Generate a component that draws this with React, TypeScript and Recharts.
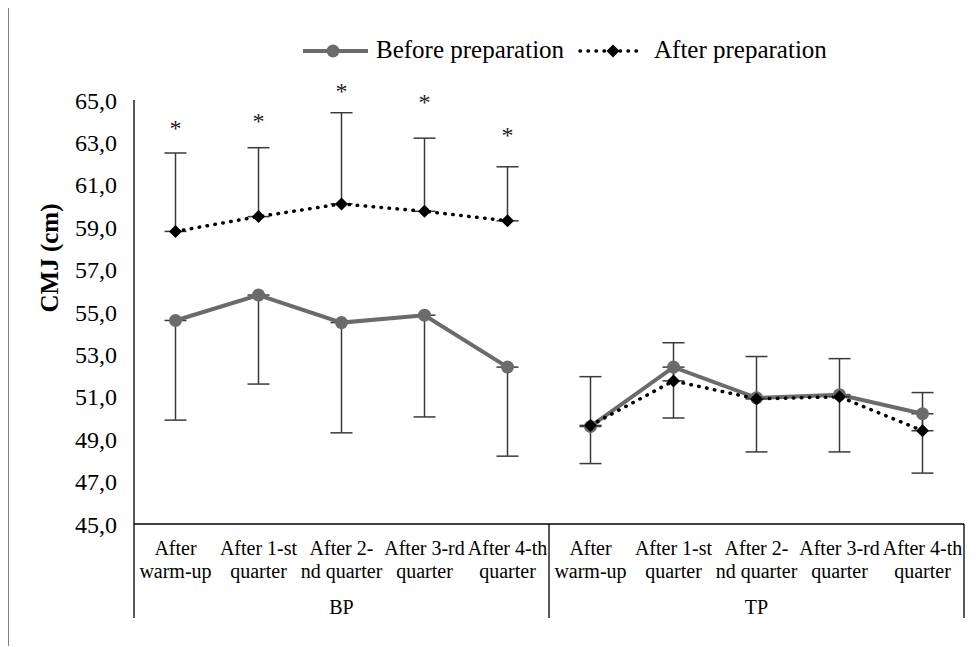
import React from 'react';
import { ComposedChart, Line, XAxis, YAxis, ErrorBar, ReferenceDot, Legend } from 'recharts';

const groups = ['BP', 'TP'];
const stageLine1 = ['After', 'After 1-st', 'After 2-', 'After 3-rd', 'After 4-th'];
const stageLine2 = ['warm-up', 'quarter', 'nd quarter', 'quarter', 'quarter'];

const beforeBP = [54.6, 55.8, 54.5, 54.85, 52.4];
const beforeBPsd = [4.7, 4.2, 5.2, 4.8, 4.2];
const afterBP = [58.8, 59.5, 60.1, 59.75, 59.3];
const afterBPsd = [3.7, 3.25, 4.3, 3.45, 2.55];

const beforeTP = [49.6, 52.4, 50.95, 51.1, 50.2];
const beforeTPsd = [1.75, 2.4, 2.55, 2.7, 2.8];
const afterTP = [49.65, 51.75, 50.9, 51.0, 49.4];
const afterTPsd = [2.3, 1.8, 2.0, 1.8, 1.8];

const starValues = [63.8, 64.15, 65.55, 65.05, 63.5];
const yTicks = [45, 47, 49, 51, 53, 55, 57, 59, 61, 63, 65];

const GRAY = '#6b6b6b';
const FONT = '"Liberation Serif", "Times New Roman", serif';

const W = 969;
const H = 639;
const CW = W - 2;
const CH = H - 2;
const M = { top: 92, right: 12, bottom: 0, left: 0 };
const Y_W = 125;
const X_H = CH - M.top - 424;
const BAND = (CW - M.left - M.right - Y_W) / 10;

const data = groups.flatMap((g, gi) =>
  stageLine1.map((_, i) => {
    const isBP = gi === 0;
    return {
      key: `${g}-${i}`,
      group: g,
      stage: i,
      beforeBP: isBP ? beforeBP[i] : null,
      beforeBPErr: isBP ? [beforeBPsd[i], 0] : null,
      afterBP: isBP ? afterBP[i] : null,
      afterBPErr: isBP ? [0, afterBPsd[i]] : null,
      beforeTP: !isBP ? beforeTP[i] : null,
      beforeTPErr: !isBP ? [beforeTPsd[i], 0] : null,
      afterTP: !isBP ? afterTP[i] : null,
      afterTPErr: !isBP ? [0, afterTPsd[i]] : null,
    };
  })
);

const CatTick = (props: any) => {
  const { x, y, payload } = props;
  const row = data.find((d) => d.key === payload.value);
  if (!row) return null;
  const i = row.stage;
  const half = BAND / 2;
  const ls = { stroke: '#000', strokeWidth: 1.3 };
  return (
    <g>
      <text x={x} y={y + 31} textAnchor="middle" fontSize={20} fontFamily={FONT} fill="#000">
        {stageLine1[i]}
      </text>
      <text x={x} y={y + 54} textAnchor="middle" fontSize={20} fontFamily={FONT} fill="#000">
        {stageLine2[i]}
      </text>
      {i === 2 && (
        <text x={x} y={y + 90} textAnchor="middle" fontSize={20} fontFamily={FONT} fill="#000">
          {row.group}
        </text>
      )}
      {row.key === 'BP-0' && <line x1={x - half} x2={x - half} y1={y} y2={y + 94} {...ls} />}
      {i === 4 && <line x1={x + half} x2={x + half} y1={y} y2={y + 94} {...ls} />}
    </g>
  );
};

const Diamond = (p: any) => {
  const { cx, cy, value } = p;
  if (cx == null || cy == null || value == null) return <g />;
  const s = 6.5;
  return <polygon points={`${cx},${cy - s} ${cx + s},${cy} ${cx},${cy + s} ${cx - s},${cy}`} fill="#000" />;
};

const StarShape = (p: any) => {
  const { cx, cy } = p;
  if (cx == null || cy == null) return <g />;
  return (
    <text x={cx} y={cy + 11} textAnchor="middle" fontSize={24} fontFamily={FONT} fill="#222">
      *
    </text>
  );
};

const LegendContent = () => (
  <svg width={W} height={70} style={{ display: 'block' }}>
    <line x1={294} x2={359} y1={43} y2={43} stroke={GRAY} strokeWidth={4} />
    <circle cx={324} cy={43} r={6.5} fill={GRAY} />
    <text x={367} y={50} fontSize={25} fontFamily={FONT} fill="#000">
      Before preparation
    </text>
    <line
      x1={571}
      x2={632}
      y1={43}
      y2={43}
      stroke="#000"
      strokeWidth={3.5}
      strokeDasharray="0.5 7.5"
      strokeLinecap="round"
    />
    <polygon points={`604,36.5 610.5,43 604,49.5 597.5,43`} fill="#000" />
    <text x={645} y={50} fontSize={25} fontFamily={FONT} fill="#000">
      After preparation
    </text>
  </svg>
);

const YLabel = (props: any) => {
  const vb = props.viewBox || { x: 0, y: M.top };
  const cx = (vb.x ?? 0) + 40;
  const cy = (vb.y ?? M.top) + 158;
  return (
    <text
      transform={`translate(${cx}, ${cy}) rotate(-90)`}
      textAnchor="middle"
      dominantBaseline="central"
      fontSize={25}
      fontWeight="bold"
      fontFamily={FONT}
      fill="#000"
    >
      CMJ (cm)
    </text>
  );
};

const beforeProps = {
  stroke: GRAY,
  strokeWidth: 4,
  dot: { r: 6.5, fill: GRAY, stroke: GRAY, strokeWidth: 0 },
  activeDot: false as const,
  isAnimationActive: false,
  legendType: 'none' as const,
};

const afterProps = {
  stroke: '#000',
  strokeWidth: 3.5,
  strokeDasharray: '0.5 7.5',
  strokeLinecap: 'round' as const,
  dot: <Diamond />,
  activeDot: false as const,
  isAnimationActive: false,
  legendType: 'none' as const,
};

const errProps = { width: 11, stroke: '#3a3a3a', strokeWidth: 1.5, direction: 'y' as const };

export default function App() {
  return (
    <div
      style={{
        position: 'relative',
        width: W,
        height: H,
        borderLeft: '1.5px solid #808080',
        borderTop: '1.5px solid #808080',
        boxSizing: 'border-box',
        marginTop: -1,
        fontFamily: FONT,
        background: '#fff',
      }}
    >
      <ComposedChart width={CW} height={CH} data={data} margin={M} style={{ fontFamily: FONT }}>
        <XAxis
          dataKey="key"
          type="category"
          interval={0}
          height={X_H}
          padding={{ left: BAND / 2, right: BAND / 2 }}
          tickSize={0}
          tickMargin={0}
          tickLine={false}
          axisLine={{ stroke: '#000', strokeWidth: 1.3 }}
          tick={<CatTick />}
        />
        <YAxis
          domain={[45, 65]}
          ticks={yTicks}
          interval={0}
          width={Y_W}
          tickSize={0}
          tickMargin={17}
          tickLine={false}
          axisLine={{ stroke: '#000', strokeWidth: 1.3 }}
          tick={{ fontSize: 24, fontFamily: FONT, fill: '#000' }}
          tickFormatter={(v: number) => v.toFixed(1).replace('.', ',')}
          label={<YLabel />}
        />
        <Legend
          layout="horizontal"
          verticalAlign="middle"
          align="center"
          wrapperStyle={{ position: 'absolute', top: 0, left: 0, width: W, height: 70 }}
          content={<LegendContent />}
        />
        <Line dataKey="beforeBP" name="Before preparation" {...beforeProps}>
          <ErrorBar dataKey="beforeBPErr" {...errProps} />
        </Line>
        <Line dataKey="beforeTP" name="Before preparation (TP)" {...beforeProps}>
          <ErrorBar dataKey="beforeTPErr" {...errProps} />
        </Line>
        <Line dataKey="afterBP" name="After preparation" {...afterProps}>
          <ErrorBar dataKey="afterBPErr" {...errProps} />
        </Line>
        <Line dataKey="afterTP" name="After preparation (TP)" {...afterProps}>
          <ErrorBar dataKey="afterTPErr" {...errProps} />
        </Line>
        {starValues.map((v, i) => (
          <ReferenceDot
            key={`star-${i}`}
            x={`BP-${i}`}
            y={v}
            r={0}
            ifOverflow="visible"
            shape={<StarShape />}
          />
        ))}
      </ComposedChart>
    </div>
  );
}
